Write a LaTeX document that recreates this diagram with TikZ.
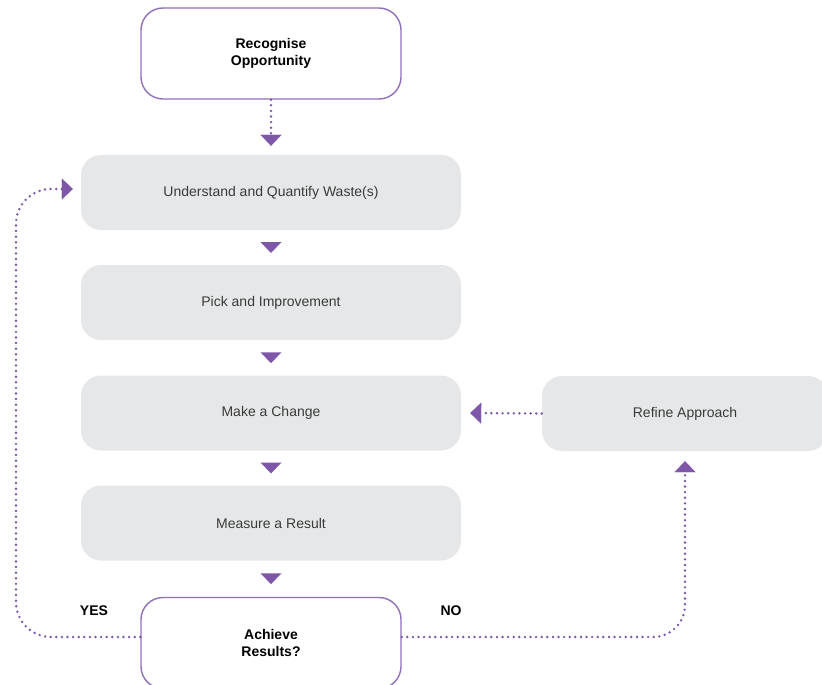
\documentclass[tikz,border=0pt]{standalone}
\usepackage{fontspec}
\setmainfont{Liberation Sans}
\usetikzlibrary{arrows.meta}
\definecolor{flowpurple}{HTML}{7E57A8}
\definecolor{edgepurple}{HTML}{9070B8}
\definecolor{stepgrey}{HTML}{E6E7E8}
\definecolor{steptext}{HTML}{3A3A3A}
\tikzset{
  stepbox/.style={rectangle, rounded corners=20pt, fill=stepgrey, draw=none,
    minimum width=380pt, minimum height=75pt, text=steptext,
    font=\fontsize{14}{17}\selectfont},
  keybox/.style={rectangle, rounded corners=22pt, fill=white, draw=edgepurple,
    line width=1.4pt, minimum width=260pt, minimum height=91pt, align=center,
    font=\fontsize{14}{17.5}\selectfont\bfseries, text=black},
  dotline/.style={flowpurple, line width=2.7pt, line cap=round,
    dash pattern=on 0pt off 5.6pt,
    -{Triangle[length=11pt,width=21pt,line width=0.1pt]}},
  branchlabel/.style={font=\fontsize{14}{17}\selectfont\bfseries, text=black},
  downtri/.pic={\fill[flowpurple] (-10.5,-5.5) -- (10.5,-5.5) -- (0,5.5) -- cycle;}
}
\begin{document}
\begin{tikzpicture}[x=1pt,y=-1pt]
\useasboundingbox (0,0) rectangle (822,685);

% main column
\node[keybox] (start) at (271,53.5) {Recognise\\Opportunity};
\node[stepbox] (waste) at (271,192.5) {Understand and Quantify Waste(s)};
\node[stepbox] (pick) at (271,302.5) {Pick and Improvement};
\node[stepbox] (change) at (271,413) {Make a Change};
\node[stepbox] (measure) at (271,523) {Measure a Result};
\node[keybox] (achieve) at (271,643) {Achieve\\Results?};

% side step
\node[stepbox, minimum width=286pt] (refine) at (685,413.5) {Refine Approach};

% branch labels
\node[branchlabel] (yes) at (94,611) {YES};
\node[branchlabel] (no) at (451,611) {NO};

% connectors
\draw[dotline, shorten >=9pt] (start.south) -- (waste.north);
\path (waste.south) -- (pick.north) pic[pos=0.5] {downtri};
\path (pick.south) -- (change.north) pic[pos=0.5] {downtri};
\path (change.south) -- (measure.north) pic[pos=0.5] {downtri};
\path (measure.south) -- (achieve.north) pic[pos=0.5] {downtri};

\draw[dotline, shorten >=9pt] (refine.west) -- (change.east);

\draw[dotline, rounded corners=32pt, shorten >=10pt]
  ([yshift=6pt]achieve.east) -| (refine.south);

\coordinate (yesturn) at (16,189);
\draw[dotline, rounded corners=35pt, shorten >=8pt]
  ([yshift=6pt]achieve.west) -| (yesturn) -- ([yshift=3.5pt]waste.west);
\end{tikzpicture}
\end{document}
